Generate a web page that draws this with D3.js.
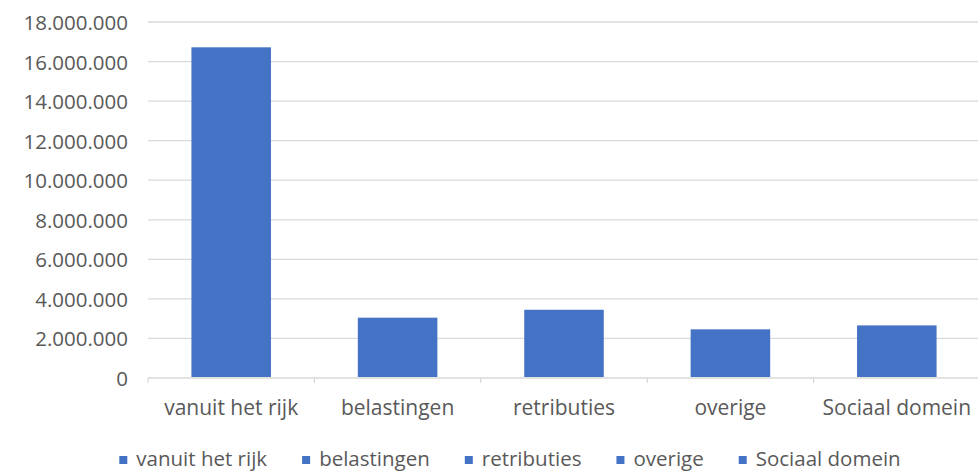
<!DOCTYPE html>
<html><head><meta charset="utf-8">
<script src="https://cdn.jsdelivr.net/npm/d3@7"></script>
<style>
html,body{margin:0;padding:0;background:#fff;}
svg{display:block;}
text{font-family:"Open Sans",sans-serif;fill:#595959;}
</style></head>
<body>
<svg id="chart" width="978" height="473"></svg>
<script>
const categories = ["vanuit het rijk", "belastingen", "retributies", "overige", "Sociaal domein"];
const values = [16720000, 3050000, 3450000, 2460000, 2660000];
const yTicks = [0, 2000000, 4000000, 6000000, 8000000, 10000000, 12000000, 14000000, 16000000, 18000000];
const barColor = "#4472C4";

const W = 978, H = 473;
const plot = {left: 148, right: 980, top: 22, bottom: 378};
const svg = d3.select("#chart");

const x = d3.scaleBand().domain(categories).range([plot.left, plot.right]).paddingInner(0.522).paddingOuter(0.261);
const y = d3.scaleLinear().domain([0, 18000000]).range([plot.bottom, plot.top]);
const fmt = v => d3.format(",")(v).replace(/,/g, ".");

// gridlines
svg.append("g").selectAll("line").data(yTicks.filter(t => t > 0)).join("line")
  .attr("x1", plot.left).attr("x2", W)
  .attr("y1", d => y(d)).attr("y2", d => y(d))
  .attr("stroke", "#d9d9d9").attr("stroke-width", 1.3);

// y labels
svg.append("g").selectAll("text").data(yTicks).join("text")
  .attr("x", 128).attr("y", d => y(d))
  .attr("text-anchor", "end").attr("dominant-baseline", "central")
  .style("font-size", "20.5px")
  .text(fmt);

// bars
svg.append("g").selectAll("rect").data(categories).join("rect")
  .attr("x", d => x(d)).attr("width", x.bandwidth())
  .attr("y", (d, i) => y(values[i])).attr("height", (d, i) => y(0) - y(values[i]) - 1)
  .attr("fill", barColor);

// x axis line + ticks
svg.append("line").attr("x1", plot.left).attr("x2", W).attr("y1", y(0)).attr("y2", y(0))
  .attr("stroke", "#d9d9d9").attr("stroke-width", 1.3);
const step = x.step();
const bounds = d3.range(categories.length + 1).map(i => plot.left + i * (plot.right - plot.left) / categories.length);
svg.append("g").selectAll("line").data(bounds.filter(b => b <= W)).join("line")
  .attr("x1", d => d).attr("x2", d => d).attr("y1", y(0)).attr("y2", y(0) + 5)
  .attr("stroke", "#d9d9d9").attr("stroke-width", 1.3);

// x labels
svg.append("g").selectAll("text").data(categories).join("text")
  .attr("x", d => x(d) + x.bandwidth() / 2).attr("y", 415)
  .attr("text-anchor", "middle")
  .style("font-size", "21px")
  .text(d => d);

// legend
const lg = svg.append("g");
const items = lg.selectAll("g").data(categories).join("g");
items.append("rect").attr("width", 8).attr("height", 8).attr("y", -10).attr("fill", barColor);
items.append("text").attr("x", 17).attr("y", 0).style("font-size", "20.5px").text(d => d);
let cx = 0;
const gap = 35;
items.each(function() {
  const g = d3.select(this);
  const tw = g.select("text").node().getComputedTextLength();
  g.attr("data-w", 17 + tw);
});
const widths = items.nodes().map(n => +n.getAttribute("data-w"));
const total = d3.sum(widths) + gap * (widths.length - 1);
let start = 510 - total / 2;
items.attr("transform", (d, i) => {
  const xx = start + d3.sum(widths.slice(0, i)) + gap * i;
  return `translate(${xx},466)`;
});
</script>
</body></html>
